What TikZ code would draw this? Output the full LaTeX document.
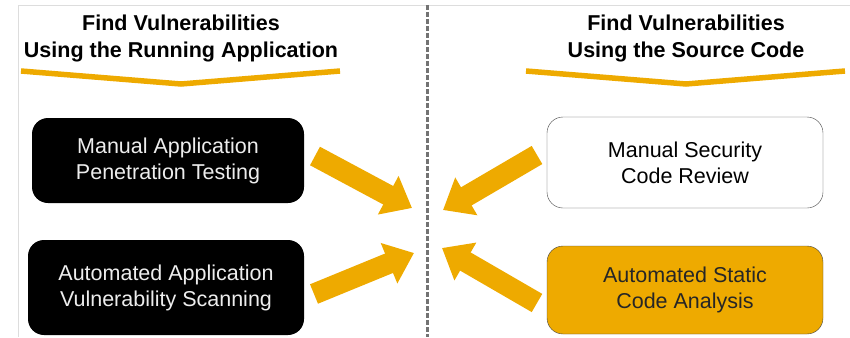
\documentclass[tikz,border=0pt]{standalone}
\usepackage{fontspec}
\setmainfont{Liberation Sans}
\usetikzlibrary{arrows.meta}
\definecolor{amber}{HTML}{EEAA00}
\definecolor{frame}{HTML}{DDDDDD}
\definecolor{edge}{HTML}{444444}

\begin{document}
\begin{tikzpicture}[x=1pt,y=-1pt]
      \tikzstyle box=[rounded corners=16pt, minimum width=276pt,
      align=center, font=\fontsize{21.5}{26}\selectfont]
      \tikzstyle fat=[amber, line width=21pt,
      -{Triangle[length=27pt,width=42pt]}]
      \tikzstyle head=[align=center, font=\bfseries\fontsize{21.5}{27}\selectfont]
      \tikzstyle chevron=[amber, line width=5.5pt]
      \useasboundingbox (0,0) rectangle (850,337);
      \draw [frame] (18,337) -- (18,5) -- (850,5);
      \draw [black!55, line width=3pt, dash pattern=on 5pt off 2pt] (427,5) -- (427,337);
      \node [head] (runhead) at (181,38) {Find Vulnerabilities\\Using the Running Application};
      \node [head] (srchead) at (686,38) {Find Vulnerabilities\\Using the Source Code};
      \draw [chevron] (21,71) -- (181,84) -- (340,71);
      \draw [chevron] (526,71) -- (686,84) -- (845,71);
      \node [box, fill=black, text=white!93!black, minimum height=85pt, minimum width=272pt]
            (pentest) at (168,160.5) {Manual Application\\Penetration Testing};
      \node [box, fill=black, text=white!93!black, minimum height=95pt]
            (scan) at (166,287.5) {Automated Application\\Vulnerability Scanning};
      \node [box, draw=edge, fill=white, text=black, minimum height=91pt]
            (review) at (685,162.5) {Manual Security\\Code Review};
      \node [box, draw=edge, fill=amber, text=black!85, minimum height=88pt]
            (static) at (685,290) {Automated Static\\Code Analysis};
      \coordinate (pentest out) at (315,156);
      \coordinate (scan out) at (314,294);
      \coordinate (review out) at (537,155);
      \coordinate (static out) at (537,303);
      \coordinate (meet nw) at (412,208);
      \coordinate (meet sw) at (414,253);
      \coordinate (meet ne) at (443,210);
      \coordinate (meet se) at (442,248);
      \draw [fat] (pentest out) -- (meet nw);
      \draw [fat] (scan out) -- (meet sw);
      \draw [fat] (review out) -- (meet ne);
      \draw [fat] (static out) -- (meet se);
    \end{tikzpicture}
\end{document}
